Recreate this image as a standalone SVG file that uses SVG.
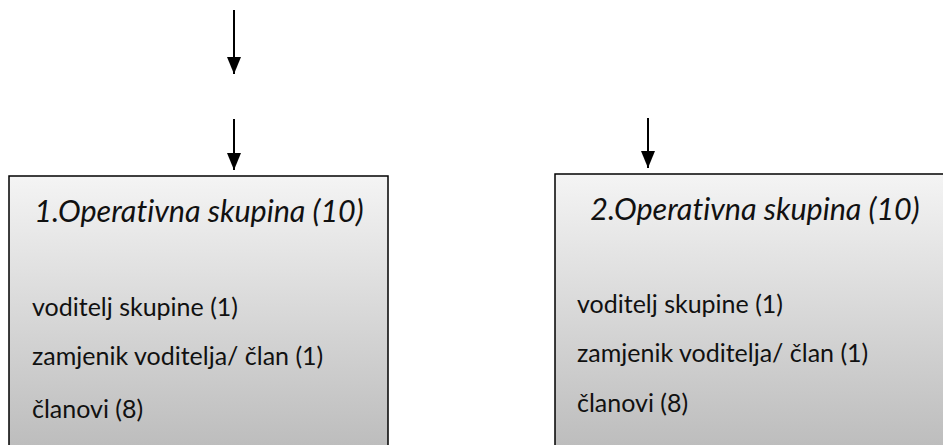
<svg xmlns="http://www.w3.org/2000/svg" width="943" height="445" viewBox="0 0 943 445">
  <defs>
    <linearGradient id="boxFill" x1="0" y1="0" x2="0" y2="1">
      <stop offset="0" stop-color="#f4f4f4"/>
      <stop offset="1" stop-color="#bababa"/>
    </linearGradient>
    <marker id="head" markerUnits="userSpaceOnUse" markerWidth="17" markerHeight="14" refX="17" refY="7" orient="auto">
      <path d="M0,0 L17,7 L0,14 z" fill="#000"/>
    </marker>
    <style>
      .box { fill: url(#boxFill); stroke: #000; stroke-width: 1.5; }
      text { font-family: Lato, "Liberation Sans", sans-serif; fill: #111; font-variant-ligatures: none; }
      .title { font-style: italic; font-size: 30.5px; text-anchor: middle; }
      .item { font-size: 25px; }
      .conn { stroke: #000; stroke-width: 2; fill: none; marker-end: url(#head); }
    </style>
  </defs>

  <g id="connectors">
    <line class="conn" x1="234" y1="10" x2="234" y2="74"/>
    <line class="conn" x1="234" y1="119" x2="234" y2="170"/>
    <line class="conn" x1="648" y1="118" x2="648" y2="168"/>
  </g>

  <g id="group1">
    <rect class="box" x="9" y="176" width="379" height="285"/>
    <text class="title" x="199" y="222">1.Operativna skupina (10)</text>
    <text class="item" x="32" y="316">voditelj skupine (1)</text>
    <text class="item" x="32" y="365">zamjenik voditelja/ član (1)</text>
    <text class="item" x="32" y="418">članovi (8)</text>
  </g>

  <g id="group2">
    <rect class="box" x="555" y="174" width="401" height="287"/>
    <text class="title" x="755" y="220">2.Operativna skupina (10)</text>
    <text class="item" x="577" y="313">voditelj skupine (1)</text>
    <text class="item" x="577" y="362">zamjenik voditelja/ član (1)</text>
    <text class="item" x="577" y="412">članovi (8)</text>
  </g>
</svg>
